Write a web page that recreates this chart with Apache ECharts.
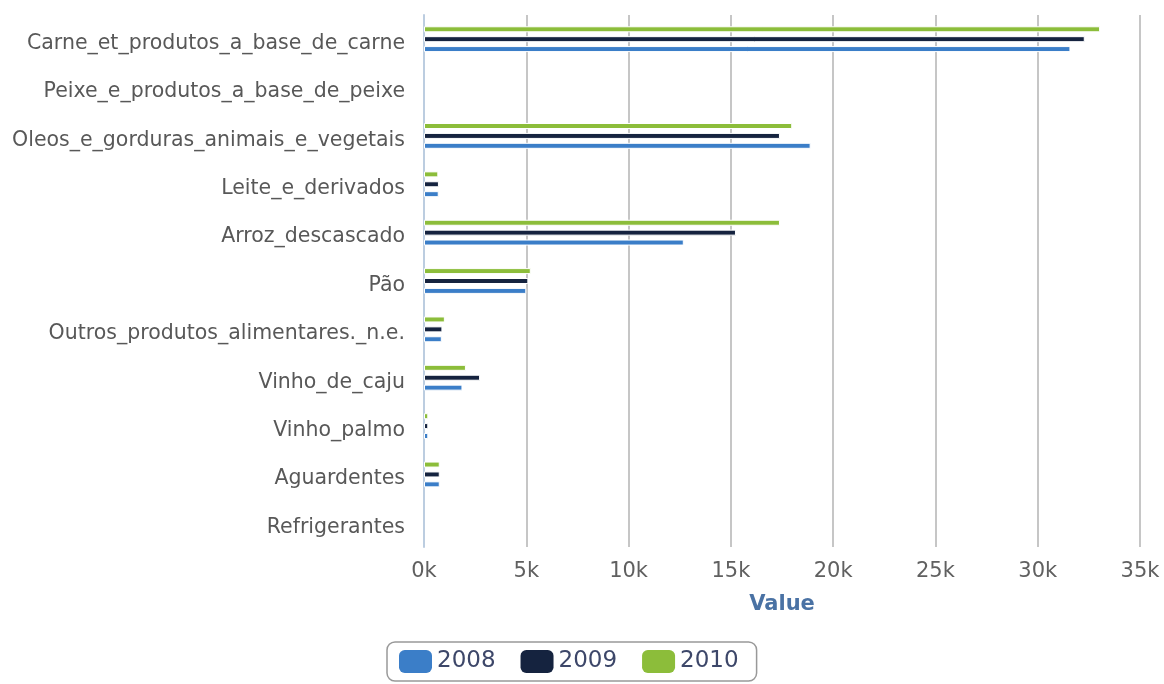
<!DOCTYPE html>
<html>
<head>
<meta charset="utf-8">
<script src="https://cdn.jsdelivr.net/npm/echarts@6/dist/echarts.min.js"></script>
<style>
  html, body { margin: 0; padding: 0; background: #fff; }
  #chart { width: 1164px; height: 684px; }
</style>
</head>
<body>
<div id="chart"></div>
<script>
const categories = [
  "Carne_et_produtos_a_base_de_carne",
  "Peixe_e_produtos_a_base_de_peixe",
  "Oleos_e_gorduras_animais_e_vegetais",
  "Leite_e_derivados",
  "Arroz_descascado",
  "Pão",
  "Outros_produtos_alimentares._n.e.",
  "Vinho_de_caju",
  "Vinho_palmo",
  "Aguardentes",
  "Refrigerantes"
];
const years = ["2008", "2009", "2010"];
const values2008 = [31600, null, 18900, 720, 12700, 5000, 870, 1880, 210, 770, null];
const values2009 = [32300, null, 17400, 730, 15250, 5100, 900, 2740, 210, 770, null];
const values2010 = [33050, null, 18000, 700, 17400, 5220, 1020, 2050, 210, 770, null];
const xTicks = ["0k", "5k", "10k", "15k", "20k", "25k", "30k", "35k"];

const colors = ["#3b7ec8", "#15233f", "#8cbd3a"];
const font = "DejaVu Sans";

const chart = echarts.init(document.getElementById("chart"));

function barSeries(name, data, color) {
  return {
    name: name,
    type: "bar",
    data: data,
    barWidth: 6,
    barGap: "65%",
    itemStyle: { color: color, borderColor: "#fff", borderWidth: 1 }
  };
}

chart.setOption({
  animation: false,
  grid: { left: 424, right: 24, top: 15, bottom: 137 },
  legend: {
    data: years,
    top: 642,
    left: 387,
    itemWidth: 33,
    itemHeight: 23,
    itemGap: 25,
    padding: [8, 18, 8, 12],
    borderColor: "#999",
    borderWidth: 1.5,
    borderRadius: 8,
    icon: "roundRect",
    itemStyle: { borderWidth: 0 },
    textStyle: { fontFamily: font, fontSize: 23, color: "#3d4769" }
  },
  xAxis: {
    type: "value",
    min: 0,
    max: 35000,
    interval: 5000,
    name: "Value",
    nameLocation: "middle",
    nameGap: 47,
    nameTextStyle: { fontFamily: font, fontSize: 21, fontWeight: "bold", color: "#4a72a4" },
    axisLine: { show: false },
    axisTick: { show: false },
    axisLabel: {
      fontFamily: font,
      fontSize: 21,
      color: "#606060",
      margin: 14,
      formatter: function (v) { return xTicks[Math.round(v / 5000)]; }
    },
    splitLine: { showMinLine: false, lineStyle: { color: "#c6c6c6", width: 2 } }
  },
  yAxis: {
    type: "category",
    inverse: true,
    data: categories,
    axisLine: { lineStyle: { color: "#bccde0", width: 2 } },
    axisTick: { length: 11, lineStyle: { color: "#bccde0", width: 2 } },
    axisLabel: {
      margin: 19,
      formatter: function (v) { return "{c|" + v + "}"; },
      rich: {
        c: { fontFamily: font, fontSize: 20.5, color: "#585858", padding: [9, 0, 0, 0] }
      }
    }
  },
  // first series is drawn at the top of each group
  series: [
    barSeries(years[2], values2010, colors[2]),
    barSeries(years[1], values2009, colors[1]),
    barSeries(years[0], values2008, colors[0])
  ]
});
</script>
</body>
</html>
